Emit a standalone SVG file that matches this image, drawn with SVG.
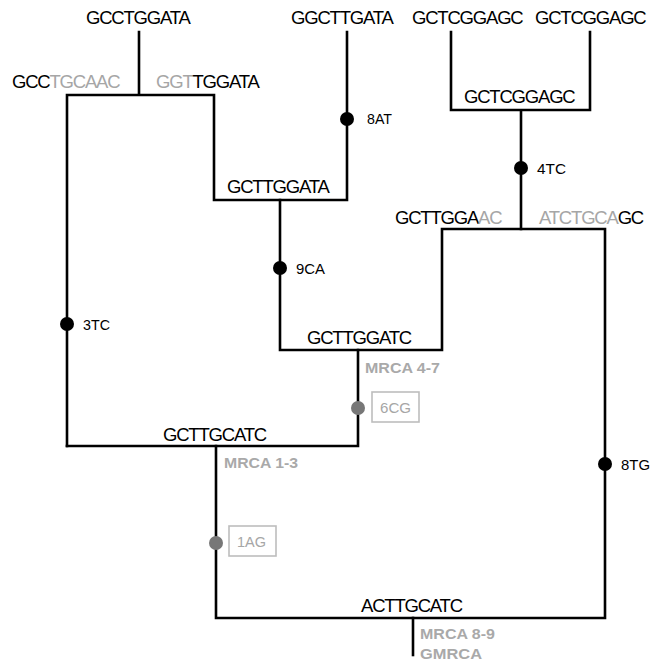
<svg xmlns="http://www.w3.org/2000/svg" width="658" height="661" viewBox="0 0 658 661">
<style>
.seq{font-family:"Liberation Sans",Arial,sans-serif;font-size:18.5px;letter-spacing:-1.2px;fill:#000}
.g{fill:#a6a6a6}
.mut{font-family:"Liberation Sans",Arial,sans-serif;font-size:15px;fill:#000}
.mutg{font-family:"Liberation Sans",Arial,sans-serif;font-size:15px;fill:#a6a6a6}
.mrca{font-family:"Liberation Sans",Arial,sans-serif;font-size:15.5px;font-weight:bold;fill:#a9a9a9}
.ln{fill:none;stroke:#000;stroke-width:2.6;stroke-linecap:square;stroke-linejoin:miter}
.dot{fill:#000}
.gdot{fill:#777}
.box{fill:#fff;stroke:#bdbdbd;stroke-width:1.6}
</style>
<rect width="658" height="661" fill="#fff"/>
<g id="connectors">
<path class="ln" d="M139,32 V95 M67,446 V95 H214 V200 H347 V32"/>
<path class="ln" d="M280,200 V350 H442 V229 H605 V618 H216 V446"/>
<path class="ln" d="M451,32 V110 H590 V32 M521,110 V229"/>
<path class="ln" d="M67,446 H358 V350"/>
<path class="ln" d="M413,618 V655"/>
</g>
<g id="leaf1"><text class="seq" x="86" y="24">GCCTGGATA</text></g>
<g id="leaf2"><text class="seq" x="291" y="24">GGCTTGATA</text></g>
<g id="leaf3"><text class="seq" x="412" y="24">GCTCGGAGC</text></g>
<g id="leaf4"><text class="seq" x="535" y="24">GCTCGGAGC</text></g>
<g id="split-left"><text class="seq" x="12" y="88">GCC<tspan class="g">TGCAAC</tspan></text></g>
<g id="split-right"><text class="seq" x="156" y="88"><tspan class="g">GGT</tspan>TGGATA</text></g>
<g id="node-GCTTGGATA"><text class="seq" x="227" y="193">GCTTGGATA</text></g>
<g id="node-GCTCGGAGC"><text class="seq" x="464" y="103">GCTCGGAGC</text></g>
<g id="split-left2"><text class="seq" x="395" y="224">GCTTGGA<tspan class="g">AC</tspan></text></g>
<g id="split-right2"><text class="seq" x="539" y="224"><tspan class="g">ATCTGCA</tspan>GC</text></g>
<g id="mrca47"><text class="seq" x="307" y="344">GCTTGGATC</text><text class="mrca" x="365" y="373" textLength="75" lengthAdjust="spacingAndGlyphs">MRCA 4-7</text></g>
<g id="mrca13"><text class="seq" x="163" y="441">GCTTGCATC</text><text class="mrca" x="224" y="468" textLength="74" lengthAdjust="spacingAndGlyphs">MRCA 1-3</text></g>
<g id="gmrca"><text class="seq" x="361" y="612">ACTTGCATC</text><text class="mrca" x="420" y="639" textLength="75" lengthAdjust="spacingAndGlyphs">MRCA 8-9</text><text class="mrca" x="420" y="659" textLength="62" lengthAdjust="spacingAndGlyphs">GMRCA</text></g>
<g id="mut-8AT"><circle class="dot" cx="347" cy="119" r="7"/><text class="mut" x="367" y="124" textLength="25" lengthAdjust="spacingAndGlyphs">8AT</text></g>
<g id="mut-4TC"><circle class="dot" cx="521" cy="168" r="7"/><text class="mut" x="537" y="174" textLength="29" lengthAdjust="spacingAndGlyphs">4TC</text></g>
<g id="mut-9CA"><circle class="dot" cx="280" cy="268" r="7"/><text class="mut" x="296" y="274" textLength="29" lengthAdjust="spacingAndGlyphs">9CA</text></g>
<g id="mut-3TC"><circle class="dot" cx="67" cy="324" r="7"/><text class="mut" x="83" y="330" textLength="27" lengthAdjust="spacingAndGlyphs">3TC</text></g>
<g id="mut-8TG"><circle class="dot" cx="605" cy="464" r="7"/><text class="mut" x="621" y="470" textLength="29" lengthAdjust="spacingAndGlyphs">8TG</text></g>
<g id="mut-6CG"><circle class="gdot" cx="358" cy="408" r="7"/><rect class="box" x="372" y="392" width="47" height="30"/><text class="mutg" x="380" y="413" textLength="31" lengthAdjust="spacingAndGlyphs">6CG</text></g>
<g id="mut-1AG"><circle class="gdot" cx="216" cy="543" r="7"/><rect class="box" x="229" y="526" width="47" height="30"/><text class="mutg" x="237" y="547" textLength="29" lengthAdjust="spacingAndGlyphs">1AG</text></g>
</svg>
